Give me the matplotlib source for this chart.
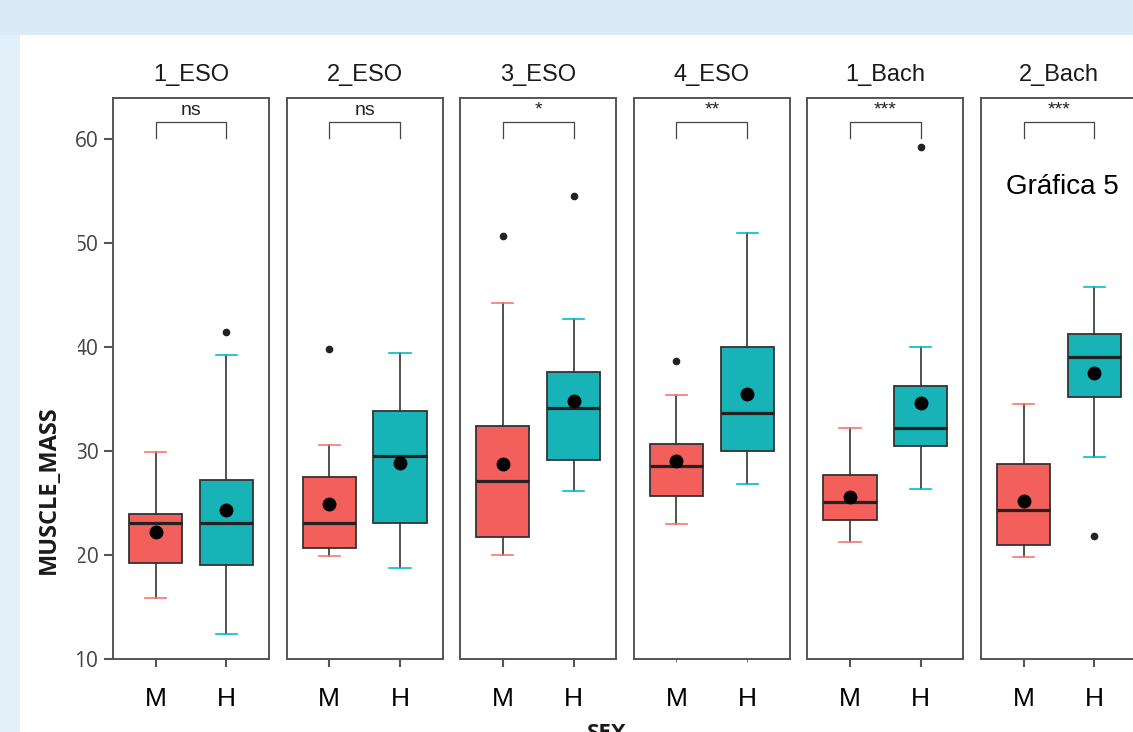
import matplotlib
matplotlib.use('Agg')
import matplotlib.pyplot as plt
from matplotlib.patches import Rectangle

groups = ['1_ESO', '2_ESO', '3_ESO', '4_ESO', '1_Bach', '2_Bach']
sexes = ['M', 'H']
sig = ['ns', 'ns', '*', '**', '***', '***']

# M (mujeres)
m_low = [15.9, 19.9, 20.0, 23.0, 21.2, 19.8]
m_q1 = [19.2, 20.7, 21.7, 25.7, 23.4, 21.0]
m_med = [23.1, 23.1, 27.1, 28.5, 25.1, 24.3]
m_q3 = [23.9, 27.5, 32.4, 30.7, 27.7, 28.75]
m_high = [29.9, 30.6, 44.2, 35.4, 32.2, 34.5]
m_mean = [22.2, 24.9, 28.75, 29.0, 25.6, 25.2]
m_out = [[], [39.8], [50.6], [38.6], [], []]

# H (hombres)
h_low = [12.4, 18.7, 26.1, 26.8, 26.3, 29.4]
h_q1 = [19.0, 23.1, 29.1, 30.0, 30.5, 35.2]
h_med = [23.1, 29.5, 34.1, 33.65, 32.2, 39.0]
h_q3 = [27.2, 33.8, 37.6, 40.0, 36.2, 41.25]
h_high = [39.2, 39.4, 42.7, 50.9, 40.0, 45.7]
h_mean = [24.3, 28.8, 34.8, 35.5, 34.6, 37.5]
h_out = [[41.4], [], [54.5], [], [59.2], [21.8]]

fills = ['#F35F5B', '#18B3B7']
capcols = ['#F8766D', '#00BFC4']
W, H = 1133, 732

fig = plt.figure(figsize=(W / 100, H / 100), dpi=100)
fig.patch.set_facecolor('#DAEAF6')
fig.patches.append(Rectangle((0, 0), 20 / W, 1 - 35 / H, transform=fig.transFigure,
                             facecolor='#E4F0F9', edgecolor='none', zorder=-2))
fig.patches.append(Rectangle((20 / W, 0), 1, 1 - 35 / H, transform=fig.transFigure,
                             facecolor='white', edgecolor='none', zorder=-2))

bot = 1 - 659 / H
hgt = (659 - 98) / H
for i, g in enumerate(groups):
    left = (113 + i * 173.6) / W
    ax = fig.add_axes([left, bot, 156 / W, hgt])
    ax.set_facecolor('none')
    stats = [
        dict(med=m_med[i], q1=m_q1[i], q3=m_q3[i], whislo=m_low[i], whishi=m_high[i], fliers=m_out[i]),
        dict(med=h_med[i], q1=h_q1[i], q3=h_q3[i], whislo=h_low[i], whishi=h_high[i], fliers=h_out[i]),
    ]
    bp = ax.bxp(stats, positions=[1, 2], widths=0.75, capwidths=0.3, patch_artist=True,
                boxprops=dict(edgecolor='#333333', linewidth=1.3),
                medianprops=dict(color='#222222', linewidth=2.3),
                whiskerprops=dict(color='#333333', linewidth=1.2),
                capprops=dict(linewidth=1.2),
                flierprops=dict(marker='o', markersize=4.5, markerfacecolor='#222222',
                                markeredgecolor='#222222'))
    for j in range(2):
        bp['boxes'][j].set_facecolor(fills[j])
        bp['caps'][2 * j].set_color(capcols[j])
        bp['caps'][2 * j + 1].set_color(capcols[j])
    ax.plot([1, 2], [m_mean[i], h_mean[i]], 'o', color='black', markersize=9, linestyle='none', zorder=5)

    # significance bracket
    ax.plot([1, 1, 2, 2], [60.1, 61.6, 61.6, 60.1], color='#444444', linewidth=0.9)
    ax.text(1.5, 61.9, sig[i], ha='center', va='bottom', fontsize=14,
            family='Liberation Sans', color='#222222')

    ax.set_xlim(0.4, 2.6)
    ax.set_ylim(10, 63.9)
    for s in ax.spines.values():
        s.set_color('#555555')
        s.set_linewidth(1.4)
    ax.set_xticks([1, 2])
    ax.set_xticklabels(sexes, fontsize=19, family='Liberation Sans', color='black')
    if i == 3:
        ax.tick_params(axis='x', length=2, pad=18, color='#777777')
    else:
        ax.tick_params(axis='x', length=6, width=1.5, pad=14, color='#555555')
    if i == 0:
        ax.set_yticks([10, 20, 30, 40, 50, 60])
        ax.set_yticklabels(['10', '20', '30', '40', '50', '60'], fontsize=15,
                           family='Open Sans', color='#444444')
        ax.tick_params(axis='y', length=6.5, width=1.5, pad=4, color='#555555')
    else:
        ax.set_yticks([])
    fig.text(left + 78 / W, 1 - 75 / H, g, ha='center', va='center', fontsize=17,
             family='Liberation Sans', color='#1a1a1a')

# white block hiding the left part of some y tick labels, as in the screenshot
fig.patches.append(Rectangle((64 / W, 1 - 640 / H), 14 / W, 480 / H, transform=fig.transFigure,
                             facecolor='white', edgecolor='none', zorder=2))

fig.text(49 / W, 1 - 490 / H, 'MUSCLE_MASS', rotation=90, ha='center', va='center',
         fontsize=17, fontweight='bold', family='Open Sans', color='#1a1a1a', zorder=3)
fig.text(607 / W, 1 - 723 / H, 'SEX', ha='center', va='top', fontsize=16,
         fontweight='bold', family='Open Sans', color='#1a1a1a')
fig.text(1062 / W, 1 - 187 / H, 'Gráfica 5', ha='center', va='center', fontsize=20,
         family='Liberation Sans', color='black')

fig.savefig('out.png', dpi=100, facecolor=fig.get_facecolor())
